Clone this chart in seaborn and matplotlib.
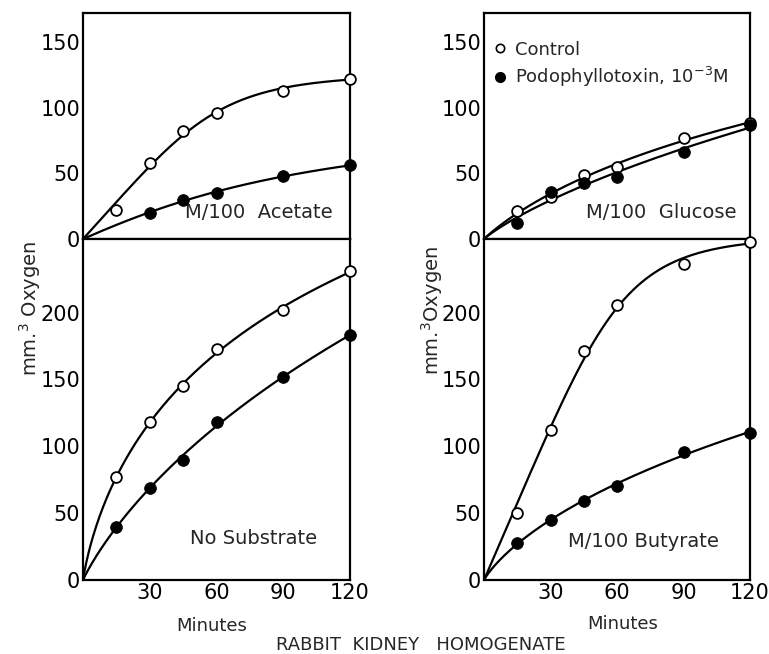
import numpy as np
import matplotlib
matplotlib.use("Agg")
import matplotlib.pyplot as plt
import pandas as pd
import seaborn as sns

# data (mm3 oxygen vs minutes)
minutes = [0, 15, 30, 45, 60, 90, 120]
acetate_control = [0, 22, 58, 82, 96, 113, 122]
acetate_podo = [0, np.nan, 20, 30, 35, 48, 56]
glucose_control = [0, 21, 32, 49, 55, 77, 88]
glucose_podo = [0, 12, 36, 43, 47, 66, 87]
nosub_control = [0, 77, 118, 145, 173, 202, 231]
nosub_podo = [0, 40, 69, 90, 118, 152, 183]
butyrate_control = [0, 50, 112, 171, 206, 236, 253]
butyrate_podo = [0, 28, 45, 59, 70, 96, 110]

panel_labels = ["M/100  Acetate", "M/100  Glucose", "No Substrate", "M/100 Butyrate"]
series_labels = ["Control", "Podophyllotoxin, 10$^{-3}$M"]
top_yticks = [0, 50, 100, 150]
bottom_yticks = [0, 50, 100, 150, 200]
xticks = [30, 60, 90, 120]

sns.set_theme(style="white")
plt.rcParams['font.family'] = ['DejaVu Sans']
plt.rcParams['mathtext.default'] = 'regular'


def smooth_fit(t, y):
    # linear start bending to a plateau: s*t / (1 + (t/tau)^q)^(1/q),
    # least squares, stands in for the hand-drawn smooth curves
    t = np.asarray(t, float)
    y = np.asarray(y, float)
    ok = ~np.isnan(y)
    t, y = t[ok], y[ok]
    best = None
    for tau in np.logspace(0.5, 3.5, 200):
        for q in np.linspace(0.4, 4.0, 73):
            f = t / (1 + (t / tau) ** q) ** (1 / q)
            s = (f @ y) / (f @ f)
            r = ((s * f - y) ** 2).sum()
            if best is None or r < best[0]:
                best = (r, s, tau, q)
    _, s, tau, q = best
    tt = np.linspace(0, 120, 240)
    return tt, s * tt / (1 + (tt / tau) ** q) ** (1 / q)


fig = plt.figure(figsize=(7.69, 6.54), dpi=100)

W, H = 769, 654
def box(x0, x1, y0, y1):
    return [x0 / W, 1 - y1 / H, (x1 - x0) / W, (y1 - y0) / H]

ax_ace = fig.add_axes(box(83, 350, 13, 239))
ax_glu = fig.add_axes(box(484, 750, 13, 239))
ax_nos = fig.add_axes(box(83, 350, 239, 580))
ax_but = fig.add_axes(box(484, 750, 239, 580))

panels = [
    (ax_ace, acetate_control, acetate_podo, panel_labels[0], (46, 13), True),
    (ax_glu, glucose_control, glucose_podo, panel_labels[1], (46, 13), True),
    (ax_nos, nosub_control, nosub_podo, panel_labels[2], (48, 24), False),
    (ax_but, butyrate_control, butyrate_podo, panel_labels[3], (38, 22), False),
]

for ax, ctrl, podo, label, pos, is_top in panels:
    for ys in [ctrl, podo]:
        tt, yy = smooth_fit(minutes, ys)
        sns.lineplot(x=tt, y=yy, ax=ax, color="black", lw=1.6)
    pts = pd.DataFrame({"t": minutes, "ctrl": ctrl, "podo": podo})
    pts = pts[pts.t > 0]
    sns.scatterplot(data=pts, x="t", y="ctrl", ax=ax, marker="o", s=60,
                    facecolor="white", edgecolor="black", linewidth=1.3,
                    zorder=5, clip_on=False)
    sns.scatterplot(data=pts, x="t", y="podo", ax=ax, marker="o", s=70,
                    color="black", edgecolor="black", zorder=5, clip_on=False)
    ax.set_xlim(0, 120)
    ax.set_xlabel("")
    ax.set_ylabel("")
    ax.text(pos[0], pos[1], label, fontsize=14, ha="left", va="bottom")
    for sp in ax.spines.values():
        sp.set_linewidth(1.6)
        sp.set_color("black")
    ax.tick_params(length=0, labelsize=15, pad=2, colors="black")
    ax.set_xticks(xticks)
    if is_top:
        ax.set_ylim(0, 172)
        ax.set_yticks(top_yticks)
        ax.set_xticklabels([])
    else:
        ax.set_ylim(0, 255)
        ax.set_yticks(bottom_yticks)

# legend in the glucose panel
h_ctrl = plt.Line2D([], [], ls="", marker="o", ms=6, mfc="white", mec="black", mew=1.2)
h_podo = plt.Line2D([], [], ls="", marker="o", ms=7, mfc="black", mec="black")
ax_glu.legend([h_ctrl, h_podo], series_labels, loc="upper left", frameon=False,
              fontsize=13, handletextpad=0.3, borderaxespad=0.0,
              handlelength=1.0, labelspacing=0.35, bbox_to_anchor=(0.0, 0.91))

fig.text(30 / W, 1 - 308 / H, "mm.$^3$ Oxygen", rotation=90, fontsize=14,
         ha="center", va="center")
fig.text(432 / W, 1 - 310 / H, "mm.$^3$Oxygen", rotation=90, fontsize=14,
         ha="center", va="center")
fig.text(212 / W, 1 - 626 / H, "Minutes", fontsize=13, ha="center", va="center")
fig.text(623 / W, 1 - 624 / H, "Minutes", fontsize=13, ha="center", va="center")
fig.text(421 / W, 1 - 645 / H, "RABBIT  KIDNEY   HOMOGENATE", fontsize=13,
         ha="center", va="center")

fig.savefig("out.png", dpi=100)
